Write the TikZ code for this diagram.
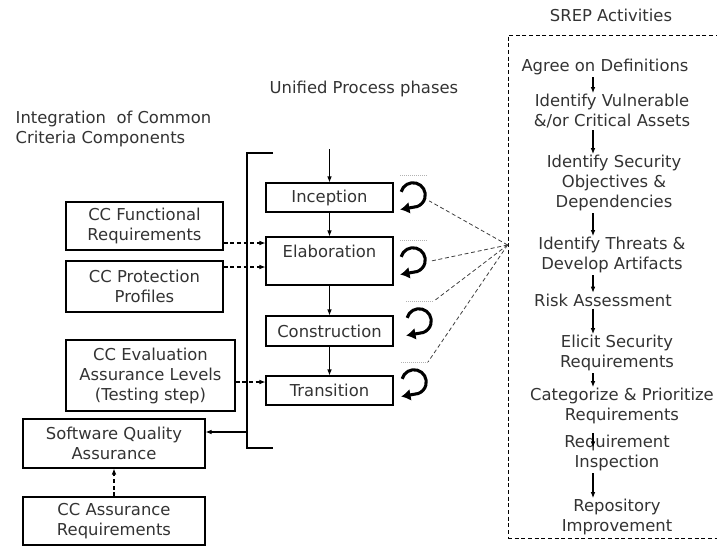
\documentclass[tikz,border=0pt]{standalone}
\usepackage{fontspec}
\setmainfont{DejaVu Sans}
\usetikzlibrary{arrows.meta,calc}
\tikzset{
 every node/.style={font=\fontsize{12.3}{15}\selectfont, text=black!80},
 box/.style={draw, line width=0.8pt, align=center, inner sep=0pt},
 sz/.style 2 args={minimum width=#1*0.75pt, minimum height=#2*0.75pt},
 arr/.style={line width=0.8pt, -{Latex[length=4.5pt,width=3.5pt]}},
 darr/.style={arr, dash pattern=on 3pt off 2pt},
 dline/.style={line width=0.6pt, dash pattern=on 3pt off 2pt, draw=black!75},
 cyc/.style={line width=2.3pt, -{Latex[length=7pt,width=9pt]}},
 ghost/.style={draw=black!30, line width=0.5pt, densely dotted},
 act/.style={align=center, inner sep=0.5pt},
 loopnode/.style={circle, minimum size=34*0.75pt, inner sep=0pt},
}
\begin{document}
\begin{tikzpicture}[x=0.75pt,y=-0.75pt]
\useasboundingbox (0,0) rectangle (717,546);
% titles
\node[anchor=west, align=left] (tcc) at (11,129) {Integration~ of Common\\Criteria Components};
\node[anchor=west] (tup) at (265,89) {Unified Process phases};
\node (tsrep) at (611,15) {SREP Activities};
% left boxes
\node[box, sz={157}{48}] (ccf) at (144.5,226) {CC Functional\\Requirements};
\node[box, sz={157}{51}] (ccp) at (144.5,286.5) {CC Protection\\Profiles};
\node[box, sz={169}{71}] (cce) at (150.5,375.5) {CC Evaluation\\Assurance Levels\\(Testing step)};
\node[box, sz={182}{49}] (sqa) at (114,443.5) {Software Quality\\Assurance};
\node[box, sz={182}{48}] (ccar) at (114,521) {CC Assurance\\Requirements};
% phases
\node[box, sz={127}{29}] (inc) at (329.5,197.5) {Inception};
\node[box, sz={127}{48}] (ela) at (329.5,261) {Elaboration\\\phantom{E}};
\node[box, sz={127}{30}] (con) at (329.5,331) {Construction};
\node[box, sz={127}{29}] (tra) at (329.5,390.5) {Transition};
\coordinate (top) at (329.5,149);
\draw[arr] (top) -- (inc.north);
\draw[arr] (inc) -- (ela);
\draw[arr] (ela) -- (con);
\draw[arr] (con) -- (tra);
% bracket
\draw[line width=0.8pt] (273,153) -- (247,153) -- (247,448) -- (273,448);
\coordinate (brk) at (247,432);
\draw[arr] (brk) -- (sqa.east |- brk);
% dashed inputs
\draw[darr] (ccf.east |- 0,243) -- (ela.west |- 0,243);
\draw[darr] (ccp.east |- 0,267) -- (ela.west |- 0,267);
\draw[darr] (cce.east |- 0,382) -- (tra.west |- 0,382);
\draw[darr] (ccar.north) -- (sqa.south);
% loops
\node[loopnode] (l1) at (413,195) {};
\node[loopnode] (l2) at (413,260) {};
\node[loopnode] (l3) at (419,321) {};
\node[loopnode] (l4) at (414,382) {};
\foreach \l in {l1,l2,l3,l4}{
  \draw[cyc] ($(\l.center)+(165:9.2pt)$) arc[start angle=165, end angle=-70, radius=9.2pt] -- ++(-17,3);
  \draw[ghost] ($(\l.center)+(-13,-20)$) -- ++(28,0);
}
% SREP box
\node[draw, line width=0.6pt, dash pattern=on 3pt off 2pt, sz={211}{503}] (srep) at (613.5,286.5) {};
\coordinate (conv) at (srep.north west |- 0,245);
\draw[dline] (conv) -- (l1.-20);
\draw[dline] (conv) -- (l2.-4);
\draw[dline] (conv) -- ($(l3.center)+(15,-20)$);
\draw[dline] (conv) -- ($(l4.center)+(14,-20)$);
% activities
\node[act] (a1) at (605,67) {Agree on Definitions};
\node[act] (a2) at (612,111) {Identify Vulnerable\\\&/or Critical Assets};
\node[act] (a3) at (614,183) {Identify Security\\Objectives \&\\Dependencies};
\node[act] (a4) at (612,255) {Identify Threats \&\\Develop Artifacts};
\node[act] (a5) at (603,300) {Risk Assessment};
\node[act] (a6) at (617,353) {Elicit Security\\Requirements};
\node[act] (a7) at (622,406) {Categorize \& Prioritize\\Requirements};
\node[act] (a8) at (617,453) {Requirement\\Inspection};
\node[act] (a9) at (617,517) {Repository\\Improvement};
\coordinate (colx) at (593,0);
\foreach \a/\b in {a1/a2,a2/a3,a3/a4,a4/a5,a5/a6,a6/a7,a8/a9}{
  \draw[arr, shorten <=1pt] (\a.south -| colx) -- (\b.north -| colx);
}
\draw[arr, shorten <=6pt, shorten >=-10pt] (a7.south -| colx) -- (a8.north -| colx);
\end{tikzpicture}
\end{document}
